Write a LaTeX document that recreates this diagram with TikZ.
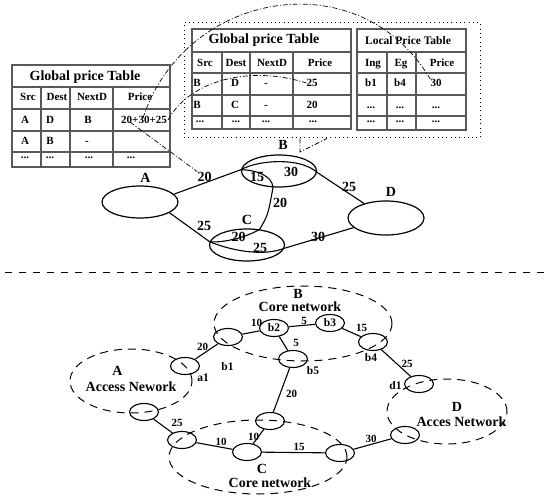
\documentclass[tikz,border=0pt]{standalone}
\usepackage{fontspec}
\setmainfont{Liberation Serif}
\usetikzlibrary{shapes}

\begin{document}
\begin{tikzpicture}[x=1pt,y=-1pt,
    big/.style={draw,ellipse,minimum width=76,minimum height=32,inner sep=0pt,line width=1.2pt},
    ele/.style={draw,ellipse,minimum width=29,minimum height=17,inner sep=0pt,line width=1.1pt,font=\fontsize{11.5}{13}\selectfont\bfseries},
    net/.style={draw,ellipse,inner sep=0pt,line width=1pt,dash pattern=on 8pt off 6pt},
    tab/.style={draw=black!65,line width=1.3pt},
    lnk/.style={line width=1.1pt},
    callout/.style={line width=.7pt,dash pattern=on 5pt off 2pt on 1pt off 2pt},
    dotbox/.style={draw,line width=1pt,dash pattern=on 1pt off 3.3pt,inner sep=0pt},
    hd/.style={font=\fontsize{14}{16}\selectfont\bfseries,inner sep=0pt,text height=9.3pt,text depth=0pt},
    hds/.style={font=\fontsize{11.5}{13}\selectfont\bfseries,inner sep=0pt,text height=7.6pt,text depth=0pt},
    cell/.style={font=\fontsize{11}{13}\selectfont\bfseries,inner sep=0pt,text height=7.3pt,text depth=0pt},
    wt/.style={font=\fontsize{14}{16}\selectfont\bfseries,inner sep=0pt,text height=9.3pt,text depth=0pt},
    sw/.style={font=\fontsize{11}{13}\selectfont\bfseries,inner sep=0pt,text height=7.3pt,text depth=0pt},
    nl/.style={font=\fontsize{11.5}{13}\selectfont\bfseries,inner sep=0pt,text height=7.6pt,text depth=0pt}]
  \useasboundingbox (0,0) rectangle (552,497);

  % global table at the source
  \draw[tab] (12,65) rectangle (170,167);
  \draw[tab] (12,87) -- (170,87) (12,109) -- (170,109) (12,131) -- (170,131) (12,152) -- (170,152);
  \draw[tab] (41,87) -- (41,167) (70,87) -- (70,167) (113,87) -- (113,167);
  \node[hd] (t1) at (85,76) {Global price Table};
  \node[cell] (t1c1) at (28,97) {Src};
  \node[cell] (t1c2) at (57,97) {Dest};
  \node[cell] (t1c3) at (92,97) {NextD};
  \node[cell] (t1c4) at (140,97) {Price};
  \node[cell] (t1a1) at (25,120) {A};
  \node[cell] (t1a2) at (50,120) {D};
  \node[cell] (t1a3) at (88,120) {B};
  \node[cell] (t1a4) at (144,120) {20+30+25};
  \node[cell] (t1b1) at (25,141) {A};
  \node[cell] (t1b2) at (50,141) {B};
  \node[cell] (t1b3) at (87,141) {-};
  \node[cell] (t1d1) at (25,154.7) {...};
  \node[cell] (t1d2) at (50,154.7) {...};
  \node[cell] (t1d3) at (89,154.7) {...};
  \node[cell] (t1d4) at (131,154.7) {...};

  % tables kept by B
  \node[dotbox,minimum width=296,minimum height=115] (grp) at (332,80.5) {};
  \draw[tab] (192,29) rectangle (351,129);
  \draw[tab] (192,52) -- (351,52) (192,73) -- (351,73) (192,95) -- (351,95) (192,116) -- (351,116);
  \draw[tab] (222,52) -- (222,129) (250,52) -- (250,129) (293,52) -- (293,129);
  \node[hd] (t2) at (264,39) {Global price Table};
  \node[cell] (t2c1) at (205,62.5) {Src};
  \node[cell] (t2c2) at (236,62.5) {Dest};
  \node[cell] (t2c3) at (272,62.5) {NextD};
  \node[cell] (t2c4) at (320,62.5) {Price};
  \node[cell] (t2a1) at (197,83) {B};
  \node[cell] (t2a2) at (235,83) {D};
  \node[cell] (t2a3) at (266,83) {-};
  \node[cell] (t2a4) at (312,83) {25};
  \node[cell] (t2b1) at (197,104.5) {B};
  \node[cell] (t2b2) at (235,104.5) {C};
  \node[cell] (t2b3) at (266,104.5) {-};
  \node[cell] (t2b4) at (312,104.5) {20};
  \node[cell] (t2d1) at (200,118.7) {...};
  \node[cell] (t2d2) at (236,118.7) {...};
  \node[cell] (t2d3) at (266,118.7) {...};
  \node[cell] (t2d4) at (313,118.7) {...};

  \draw[tab] (357,29) rectangle (466,130);
  \draw[tab] (357,52) -- (466,52) (357,73) -- (466,73) (357,95) -- (466,95) (357,116) -- (466,116);
  \draw[tab] (387,52) -- (387,130) (416,52) -- (416,130);
  \node[hds] (t3) at (408,41) {Local Price Table};
  \node[cell] (t3c1) at (373,62.5) {Ing};
  \node[cell] (t3c2) at (401,62.5) {Eg};
  \node[cell] (t3c3) at (442,62.5) {Price};
  \node[cell] (t3a1) at (371,83) {b1};
  \node[cell] (t3a2) at (400,83) {b4};
  \node[cell] (t3a3) at (436,83) {30};
  \node[cell] (t3b1) at (371,104.7) {...};
  \node[cell] (t3b2) at (400,104.7) {...};
  \node[cell] (t3b3) at (436,104.7) {...};
  \node[cell] (t3d1) at (371,118.7) {...};
  \node[cell] (t3d2) at (400,118.7) {...};
  \node[cell] (t3d3) at (436,118.7) {...};

  % domain graph
  \node[big] (A) at (140,202) {};
  \node[big,minimum width=75] (B) at (279,171) {};
  \node[big,minimum width=75] (C) at (247,245) {};
  \node[big,minimum height=34] (D) at (386,218) {};
  \node[wt] (gA) at (145.5,177.5) {A};
  \node[wt] (gB) at (283,144.5) {B};
  \node[wt] (gC) at (247,219.5) {C};
  \node[wt] (gD) at (391,192) {D};

  \draw[lnk] (A.13) -- (B.178) .. controls (258,160) and (300,157) .. (B.-2) -- (D);
  \draw[lnk] (A.-20) -- (C.175) .. controls (235,252) and (265,256) .. (C.-5) -- (D);
  \draw[lnk] (B.178) .. controls (255,170) and (272,175) .. (B.250) .. controls (268,215) .. (C.51)
    .. controls (245,238) and (222,243) .. (C.175);

  \node[wt] (wab) at (204.5,176.5) {20};
  \node[wt] (wb1) at (257,177) {15};
  \node[wt] (wb2) at (291,172) {30};
  \node[wt] (wbd) at (349,187) {25};
  \node[wt] (wbc) at (280,202.5) {20};
  \node[wt] (wac) at (204,225.5) {25};
  \node[wt] (wc1) at (238.5,236.5) {20};
  \node[wt] (wc2) at (260,247.5) {25};
  \node[wt] (wcd) at (318,236.5) {30};

  % callouts
  \coordinate (p20) at (130,122);
  \coordinate (p30) at (143,118);
  \coordinate (p25) at (168,120);
  \coordinate (bp) at (300,152);
  \draw[callout] (p20) -- (wab.north west);
  \draw[callout] (p30) .. controls (185,-10) and (360,-40) .. (t3a3.north west);
  \draw[callout] (p25) .. controls (190,80) and (250,65) .. (t2a4.west);
  \draw[callout] (bp |- grp.south) -- (bp) -- ([xshift=27pt]bp |- grp.south);

  \draw[line width=1pt,dash pattern=on 7pt off 7pt] (5,273) -- (547,273);

  % router level
  \node[net,minimum width=122,minimum height=64] (NA) at (131,381) {};
  \node[net,minimum width=178,minimum height=75] (NB) at (303,323.5) {};
  \node[net,minimum width=178,minimum height=74] (NC) at (258,457) {};
  \node[net,minimum width=120,minimum height=65] (ND) at (447,411.5) {};

  \node[wt] (lA) at (117.5,371) {A};
  \node[wt] (lA2) at (131,386.5) {Access Nework};
  \node[wt] (lB) at (298,294) {B};
  \node[wt] (lB2) at (300,306.5) {Core network};
  \node[wt] (lC) at (262,469) {C};
  \node[wt] (lC2) at (270,483) {Core network};
  \node[wt] (lD) at (457,407) {D};
  \node[wt] (lD2) at (461.5,422) {Acces Network};

  \node[ele] (a1) at (185,366) {};
  \node[ele] (b1) at (228,337) {};
  \node[ele] (b2) at (274,328) {b2};
  \node[ele] (b3) at (330,323) {b3};
  \node[ele] (b4) at (373,342) {};
  \node[ele] (b5) at (293,359) {};
  \node[ele] (d1) at (419,384) {};
  \node[ele] (ax) at (144,412) {};
  \node[ele] (cl) at (182,440) {};
  \node[ele] (cc) at (247,452) {};
  \node[ele] (ct) at (270,421) {};
  \node[ele] (cr) at (340,453) {};
  \node[ele] (dl) at (405,435) {};

  \node[nl] (na1) at (203,377.5) {a1};
  \node[nl] (nb1) at (227.5,367) {b1};
  \node[nl] (nb4) at (371,358) {b4};
  \node[nl] (nb5) at (313,371) {b5};
  \node[nl] (nd1) at (395.5,386) {d1};

  \draw[lnk] (a1) -- (b1);
  \draw[lnk] (b1) -- (b2);
  \draw[lnk] (b2) -- (b3);
  \draw[lnk] (b2) -- (b5);
  \draw[lnk] (b3) -- (b4);
  \draw[lnk] (b4) -- (d1);
  \draw[lnk] (b5) -- (ct);
  \draw[lnk] (ax) -- (cl);
  \draw[lnk] (cl) -- (cc);
  \draw[lnk] (ct) -- (cc);
  \draw[lnk] (cc) -- (cr);
  \draw[lnk] (cr) -- (dl);

  \node[sw] (s1) at (202.5,346.5) {20};
  \node[sw] (s2) at (256.5,323) {10};
  \node[sw] (s3) at (304,320.5) {5};
  \node[sw] (s4) at (296,343) {5};
  \node[sw] (s5) at (361.5,328) {15};
  \node[sw] (s6) at (407,363.5) {25};
  \node[sw] (s7) at (291.5,393.5) {20};
  \node[sw] (s8) at (177,423) {25};
  \node[sw] (s9) at (221,442) {10};
  \node[sw] (s10) at (253.5,437) {10};
  \node[sw] (s11) at (299,447) {15};
  \node[sw] (s12) at (371,439) {30};
\end{tikzpicture}
\end{document}
